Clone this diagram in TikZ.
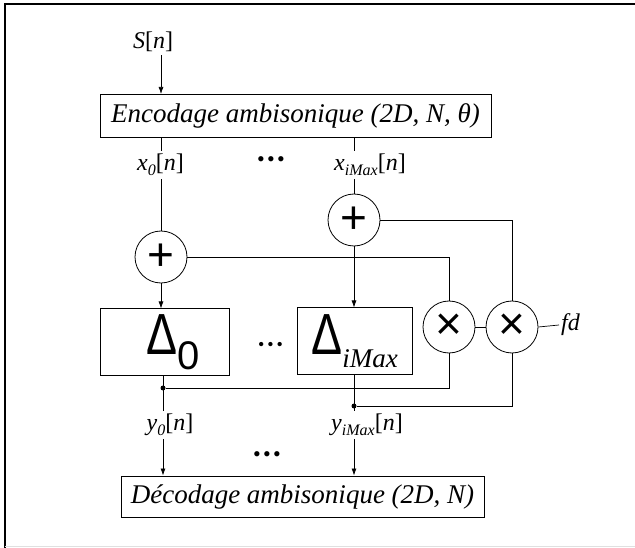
\documentclass[tikz,border=0pt]{standalone}
\usepackage{fontspec}
\setmainfont{Liberation Serif}
\newfontfamily\symfont{Liberation Sans}
\usetikzlibrary{arrows.meta}
\usetikzlibrary{positioning}

\newcommand{\sigl}[2]{#1\raisebox{-5pt}{\fontsize{16}{16}\selectfont #2}{\upshape[}n{\upshape]}}

\begin{document}
\begin{tikzpicture}[x=1pt, y=-1pt, font=\fontsize{24}{28}\selectfont\itshape,
    wire/.style={line width=0.7pt},
    arr/.style={wire, -{Latex[length=7pt, width=5pt]}},
    blk/.style={draw, line width=1pt, inner sep=0pt},
    op/.style={draw, line width=0.8pt, circle, minimum size=52pt, inner sep=0pt, font=\symfont\upshape\fontsize{46}{46}\selectfont},
    sig/.style={inner sep=3pt},
    dots/.style={inner sep=0pt, font=\upshape\fontsize{22}{22}\selectfont},
    junc/.style={circle, fill, inner sep=0pt, minimum size=5pt}]

    \useasboundingbox (0,0) rectangle (635,548);
    \draw[line width=1.2pt] (5,548) -- (5,4) -- (635,4);
    \draw[black!12, line width=1pt] (5,546.5) -- (635,546.5);

    \node[sig] (S) at (153,42) {S{\upshape[}n{\upshape]}};
    \node[blk, minimum width=391pt, minimum height=43pt, font=\fontsize{27}{30}\selectfont\itshape] (enc) at (295.5,116) {Encodage ambisonique (2D, N, θ)};

    \node[sig] (x0) at (160.5,165) {\sigl{x}{0}};
    \node[sig] (xM) at (370,165) {\sigl{x}{iMax}};
    \node[dots] (dA) at (271,162) {•\hspace{2.3pt}•\hspace{2.3pt}•};

    \node[op] (p0) at (161,257) {+};
    \node[op] (pM) at (354,220) {+};
    \node[op] (m0) at (449,327) {×};
    \node[op] (mM) at (512,327) {×};
    \node[anchor=west, inner sep=2pt] (fd) at (559,325) {fd};

    \node[blk, minimum width=129pt, minimum height=66pt] (d0) at (164.5,342)
        {\hspace*{18pt}{\symfont\upshape\fontsize{58}{58}\selectfont\scalebox{0.8}[1]{Δ}}\raisebox{-15pt}{\symfont\upshape\fontsize{40}{40}\selectfont 0}};
    \node[blk, minimum width=115pt, minimum height=66pt] (dM) at (354.5,341)
        {{\symfont\upshape\fontsize{58}{58}\selectfont\scalebox{0.8}[1]{Δ}}\raisebox{-13pt}{\fontsize{27}{27}\selectfont iMax}};
    \node[dots, font=\upshape\fontsize{18}{18}\selectfont] (dB) at (270.5,346) {•\hspace{3pt}•\hspace{3pt}•};

    \node[junc] (j0) at (163,388) {};
    \node[junc] (jM) at (354,406) {};

    \node[sig] (y0) at (170,425) {\sigl{y}{0}};
    \node[sig] (yM) at (367,425) {\sigl{y}{iMax}};
    \node[dots] (dC) at (267,457) {•\hspace{2.3pt}•\hspace{2.3pt}•};

    \node[blk, minimum width=363pt, minimum height=41pt, font=\fontsize{27}{30}\selectfont\itshape] (dec) at (302.5,496.5) {Décodage ambisonique (2D, N)};

    \draw[arr] (S.south -| p0) -- (enc.north -| p0);
    \draw[wire] (enc.south -| p0) -- (x0.north -| p0);
    \draw[wire] (x0.south -| p0) -- (p0.north);
    \draw[wire] (enc.south -| pM) -- (xM.north -| pM);
    \draw[wire] (xM.south -| pM) -- (pM.north);
    \draw[arr] (p0.south) -- (p0.south |- d0.north);
    \draw[arr] (pM.south) -- (pM.south |- dM.north);

    \draw[wire] (p0.east) -| (m0.north);
    \draw[wire] (pM.east) -| (mM.north);
    \draw[wire] (m0.east) -- (mM.west);
    \draw[wire] (mM.east) -- (fd.west);

    \draw[wire] (d0.south -| j0) -- (y0.north -| j0);
    \draw[wire] (dM.south -| jM) -- (yM.north -| jM);
    \draw[wire] (m0.south) |- (j0);
    \draw[wire] (mM.south) |- (jM);

    \draw[arr] (y0.south -| j0) -- (dec.north -| j0);
    \draw[arr] (yM.south -| jM) -- (dec.north -| jM);

\end{tikzpicture}
\end{document}
